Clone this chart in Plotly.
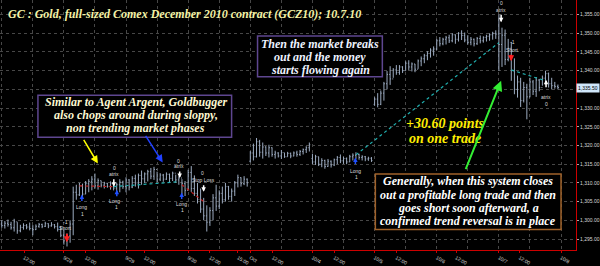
import plotly.graph_objects as go

# ---------------- DATA (hourly-ish bars, 20 per session) ----------------
highs = [
    1300.0, 1299.8, 1300.2, 1299.6, 1300.4, 1299.5, 1298.8, 1299.2, 1299.0, 1299.4, 1298.7, 1298.9, 1299.3, 1299.1, 1299.6, 1299.2, 1299.5, 1299.0, 1299.4, 1298.5,
    1297.5, 1296.5, 1300.0, 1309.0, 1309.5, 1310.0, 1309.8, 1310.5, 1311.0, 1311.8, 1312.5, 1311.2, 1310.6, 1310.3, 1310.0, 1310.4, 1309.8, 1310.0, 1311.0, 1310.6,
    1311.5, 1311.0, 1311.8, 1312.2, 1312.5, 1313.3, 1312.8, 1313.5, 1314.0, 1314.3, 1313.0, 1312.6, 1312.4, 1312.8, 1312.5, 1313.0, 1312.2, 1311.8, 1311.0, 1310.5,
    1313.5, 1314.5, 1312.0, 1310.0, 1308.5, 1306.0, 1304.0, 1303.5, 1307.0, 1309.5, 1308.0, 1309.0, 1310.0, 1309.2, 1308.5, 1310.5, 1312.2, 1311.5, 1311.8, 1311.2,
    1318.5, 1320.5, 1322.0, 1321.5, 1320.8, 1319.8, 1320.2, 1319.5, 1318.6, 1318.2, 1318.8, 1318.0, 1318.3, 1318.1, 1318.4, 1318.6, 1318.8, 1319.2, 1319.8, 1320.8,
    1317.8, 1317.5, 1317.0, 1316.6, 1316.2, 1316.4, 1316.0, 1316.5, 1317.2, 1317.6, 1317.0, 1316.8, 1317.5, 1317.9, 1318.2, 1317.8, 1317.4, 1317.2, 1317.0, 1316.9,
    1332.9, 1334.0, 1334.7, 1337.0, 1339.9, 1341.2, 1340.7, 1341.5, 1341.5, 1341.2, 1342.5, 1342.8, 1342.2, 1341.8, 1343.0, 1343.8, 1344.5, 1345.2, 1346.0, 1346.5,
    1348.5, 1349.0, 1348.8, 1349.3, 1349.6, 1350.0, 1349.7, 1350.3, 1350.8, 1350.2, 1349.5, 1349.0, 1348.6, 1349.0, 1349.4, 1349.2, 1349.6, 1350.0, 1350.4, 1350.8,
    1355.0, 1351.5, 1351.0, 1348.5, 1347.7, 1343.3, 1338.7, 1338.1, 1337.0, 1336.5, 1338.1, 1337.5, 1338.3, 1337.8, 1338.7, 1340.0, 1339.5, 1338.1, 1337.0, 1336.3,
]
lows = [
    1298.0, 1297.8, 1298.3, 1297.5, 1297.0, 1296.4, 1296.8, 1297.5, 1297.6, 1297.3, 1296.0, 1297.4, 1298.0, 1297.9, 1298.2, 1297.9, 1298.3, 1297.8, 1297.0, 1295.5,
    1293.5, 1293.0, 1294.0, 1296.0, 1305.5, 1306.5, 1306.0, 1307.0, 1307.5, 1308.0, 1308.5, 1308.2, 1308.8, 1308.5, 1308.7, 1308.2, 1308.0, 1307.0, 1307.5, 1308.4,
    1307.5, 1308.0, 1308.6, 1309.0, 1308.5, 1309.5, 1310.0, 1310.4, 1311.0, 1310.8, 1310.2, 1310.5, 1310.3, 1310.8, 1310.2, 1310.5, 1310.0, 1309.5, 1307.0, 1306.5,
    1308.0, 1307.6, 1306.5, 1304.5, 1302.0, 1300.0, 1297.0, 1298.5, 1300.0, 1302.5, 1303.0, 1304.5, 1305.0, 1305.5, 1305.0, 1306.5, 1308.8, 1309.0, 1309.4, 1309.0,
    1315.5, 1316.0, 1316.8, 1317.0, 1316.5, 1317.2, 1316.8, 1317.0, 1316.5, 1316.8, 1316.4, 1316.7, 1317.0, 1316.6, 1317.1, 1317.0, 1317.2, 1317.6, 1318.0, 1318.4,
    1315.0, 1314.8, 1314.5, 1314.2, 1313.8, 1314.3, 1314.1, 1314.5, 1315.0, 1315.3, 1315.1, 1315.0, 1315.6, 1316.0, 1316.4, 1316.2, 1316.0, 1315.8, 1315.9, 1315.6,
    1330.6, 1330.2, 1330.8, 1332.0, 1335.0, 1336.2, 1338.1, 1338.9, 1338.9, 1339.4, 1340.0, 1340.2, 1339.8, 1339.6, 1340.5, 1341.2, 1342.0, 1342.8, 1343.5, 1344.0,
    1345.5, 1346.5, 1346.8, 1347.0, 1347.4, 1347.6, 1347.2, 1347.8, 1348.2, 1347.6, 1347.0, 1346.8, 1346.5, 1346.9, 1347.3, 1347.5, 1347.8, 1348.0, 1348.3, 1348.5,
    1340.0, 1341.0, 1341.5, 1342.5, 1337.3, 1333.7, 1332.8, 1330.3, 1331.5, 1327.0, 1332.9, 1333.5, 1333.0, 1334.5, 1336.0, 1336.3, 1335.5, 1335.0, 1335.2, 1335.0,
]
opens = [
    1299.0, 1298.6, 1299.2, 1298.9, 1298.0, 1299.6, 1297.2, 1298.1, 1298.6, 1298.2, 1297.8, 1297.5, 1298.4, 1298.9, 1298.4, 1299.1, 1298.5, 1298.8, 1298.3, 1297.6,
    1296.0, 1294.5, 1295.8, 1299.0, 1307.5, 1306.8, 1309.2, 1307.0, 1309.8, 1310.4, 1311.0, 1309.2, 1310.6, 1309.4, 1309.9, 1309.1, 1309.8, 1308.6, 1309.5, 1310.2,
    1309.0, 1310.8, 1308.9, 1311.2, 1310.0, 1312.0, 1311.1, 1312.4, 1313.0, 1311.8, 1313.6, 1311.0, 1312.1, 1311.0, 1312.3, 1311.2, 1312.6, 1310.8, 1311.3, 1309.8,
    1308.0, 1312.8, 1308.5, 1307.2, 1305.6, 1303.0, 1301.2, 1299.5, 1302.6, 1306.0, 1303.8, 1307.2, 1305.5, 1309.0, 1306.4, 1307.8, 1310.0, 1311.4, 1309.8, 1311.0,
    1315.8, 1318.0, 1317.0, 1321.0, 1318.2, 1319.6, 1318.0, 1319.4, 1317.6, 1318.0, 1317.2, 1318.1, 1317.0, 1317.9, 1317.2, 1318.0, 1317.6, 1318.4, 1318.9, 1319.4,
    1316.5, 1315.6, 1317.0, 1315.0, 1316.0, 1314.4, 1315.8, 1314.8, 1316.2, 1316.8, 1315.9, 1316.5, 1315.6, 1317.0, 1317.4, 1317.6, 1316.8, 1317.0, 1316.4, 1316.6,
    1331.0, 1332.4, 1331.0, 1334.0, 1336.5, 1339.0, 1337.8, 1340.2, 1339.5, 1341.0, 1340.0, 1342.0, 1341.0, 1341.8, 1340.4, 1342.6, 1343.2, 1344.0, 1344.6, 1345.5,
    1345.8, 1348.0, 1347.2, 1348.4, 1348.8, 1348.0, 1349.6, 1348.4, 1350.0, 1349.4, 1348.2, 1347.6, 1348.4, 1347.2, 1348.6, 1348.0, 1348.9, 1349.2, 1349.6, 1350.0,
    1349.8, 1347.0, 1349.5, 1343.0, 1346.0, 1340.0, 1335.0, 1337.0, 1332.0, 1335.5, 1333.0, 1337.0, 1334.5, 1337.5, 1335.5, 1338.0, 1339.2, 1336.5, 1336.0, 1335.8,
]
closes = [
    1298.6, 1299.2, 1298.9, 1298.0, 1299.6, 1297.2, 1298.1, 1298.6, 1298.2, 1297.8, 1297.5, 1298.4, 1298.9, 1298.4, 1299.1, 1298.5, 1298.8, 1298.3, 1297.6, 1296.0,
    1294.5, 1295.8, 1299.0, 1307.5, 1306.8, 1309.2, 1307.0, 1309.8, 1310.4, 1311.0, 1309.2, 1310.6, 1309.4, 1309.9, 1309.1, 1309.8, 1308.6, 1309.5, 1310.2, 1309.0,
    1310.8, 1308.9, 1311.2, 1310.0, 1312.0, 1311.1, 1312.4, 1313.0, 1311.8, 1313.6, 1311.0, 1312.1, 1311.0, 1312.3, 1311.2, 1312.6, 1310.8, 1311.3, 1309.8, 1308.0,
    1312.8, 1308.5, 1307.2, 1305.6, 1303.0, 1301.2, 1299.5, 1302.6, 1306.0, 1303.8, 1307.2, 1305.5, 1309.0, 1306.4, 1307.8, 1310.0, 1311.4, 1309.8, 1311.0, 1310.0,
    1318.0, 1317.0, 1321.0, 1318.2, 1319.6, 1318.0, 1319.4, 1317.6, 1318.0, 1317.2, 1318.1, 1317.0, 1317.9, 1317.2, 1318.0, 1317.6, 1318.4, 1318.9, 1319.4, 1320.2,
    1315.6, 1317.0, 1315.0, 1316.0, 1314.4, 1315.8, 1314.8, 1316.2, 1316.8, 1315.9, 1316.5, 1315.6, 1317.0, 1317.4, 1317.6, 1316.8, 1317.0, 1316.4, 1316.6, 1316.0,
    1332.4, 1331.0, 1334.0, 1336.5, 1339.0, 1337.8, 1340.2, 1339.5, 1341.0, 1340.0, 1342.0, 1341.0, 1341.8, 1340.4, 1342.6, 1343.2, 1344.0, 1344.6, 1345.5, 1345.8,
    1348.0, 1347.2, 1348.4, 1348.8, 1348.0, 1349.6, 1348.4, 1350.0, 1349.4, 1348.2, 1347.6, 1348.4, 1347.2, 1348.6, 1348.0, 1348.9, 1349.2, 1349.6, 1350.0, 1349.8,
    1347.0, 1349.5, 1343.0, 1346.0, 1340.0, 1335.0, 1337.0, 1332.0, 1335.5, 1333.0, 1337.0, 1334.5, 1337.5, 1335.5, 1338.0, 1339.2, 1336.5, 1336.0, 1335.8, 1335.5,
]
bars_per_session = 20
last_price = 1335.5

tick_text = ["12:00", "9/28", "12:00", "9/29", "12:00", "9/30", "12:00", "15:00", "Oct",
             "12:00", "10/4", "12:00", "10/5", "12:00", "10/6", "12:00", "10/7", "12:00", "10/8"]
tick_pos = [0.36, 1, 1.35, 2, 2.3, 3, 3.35, 3.8, 4, 4.36, 5, 5.35, 6, 6.35, 7, 7.31, 8, 8.33, 9]
price_ticks = [1295, 1300, 1305, 1310, 1315, 1320, 1325, 1330, 1335, 1340, 1345, 1350, 1355]
price_tick_text = ["1,295.00", "1,300.00", "1,305.00", "1,310.00", "1,315.00", "1,320.00", "1,325.00",
                   "1,330.00", "", "1,340.00", "1,345.00", "1,350.00", "1,355.00"]

# trades: entry bar, entry price, exit bar, exit price, result
trade_entry_bar = [25, 36, 58, 114, 164]
trade_entry_price = [1309.2, 1309.0, 1309.5, 1317.5, 1340.2]
trade_exit_bar = [36, 57, 65, 160, 175]
trade_exit_price = [1309.0, 1310.3, 1305.0, 1347.5, 1337.3]
trade_win = [False, True, False, True, True]

# ---------------- FIGURE ----------------
W, H = 600, 266
ML, MR, MT, MB = 0, 23, 0, 9
PW, PH = W - ML - MR, H - MT - MB


def px(xp):
    return xp / PW


def py(yp):
    return 1 - yp / PH


xs = [i / bars_per_session for i in range(len(highs))]
bar_col = "#9cabc0"

fig = go.Figure()
fig.add_trace(go.Ohlc(
    x=xs, open=opens, high=highs, low=lows, close=closes,
    increasing=dict(line=dict(color=bar_col, width=1)),
    decreasing=dict(line=dict(color=bar_col, width=1)),
    tickwidth=0.3, hoverinfo="skip", showlegend=False,
))

for eb, ep, xb, xp_, win in zip(trade_entry_bar, trade_entry_price, trade_exit_bar, trade_exit_price, trade_win):
    fig.add_trace(go.Scatter(
        x=[eb / bars_per_session, xb / bars_per_session], y=[ep, xp_],
        mode="lines", line=dict(color="#20b0b0" if win else "#c02020", width=1.2, dash="dot"),
        hoverinfo="skip", showlegend=False,
    ))

serif = "Liberation Serif, Times New Roman, serif"
sans = "Liberation Sans, Arial, sans-serif"

ann = []
shapes = []

# Title
ann.append(dict(xref="paper", yref="paper", x=px(6), y=py(14), xanchor="left", yanchor="middle",
                text="<b><i>GC : Gold, full-sized Comex December 2010 contract (GCZ10); 10.7.10</i></b>",
                font=dict(family=serif, size=12, color="#f4f2a6"), showarrow=False))


def box(x0, y0, x1, y1, color, lines, ys, cx, tcolor, size=12):
    shapes.append(dict(type="rect", xref="paper", yref="paper", x0=px(x0), x1=px(x1), y0=py(y0), y1=py(y1),
                       line=dict(color=color, width=1.5), fillcolor="black", layer="above"))
    for t, yy in zip(lines, ys):
        ann.append(dict(xref="paper", yref="paper", x=px(cx), y=py(yy), xanchor="center", yanchor="middle",
                        text="<b><i>" + t + "</i></b>", font=dict(family=serif, size=size, color=tcolor),
                        showarrow=False))


box(38, 98, 232, 141, "#5e4690",
    ["Similar to Agent Argent, Goldbugger", "also chops around during sloppy,", "non trending market phases"],
    [105, 118.5, 132], 136, "#fdf8d2")
box(258, 37, 383, 79, "#5e4690",
    ["Then the market breaks", "out and the money", "starts flowing again"],
    [45, 58.5, 72], 321, "#eef2ff")
box(376, 179, 562, 236, "#a0622a",
    ["Generally, when this system closes", "out a profitable long trade and then",
     "goes short soon afterward, a", "confirmed trend reversal is in place"],
    [186, 200, 214, 227.5], 469, "#ffffff")

for t, yy in [("+30.60 points", 127), ("on one trade", 142)]:
    ann.append(dict(xref="paper", yref="paper", x=px(446), y=py(yy), xanchor="center", yanchor="middle",
                    text="<b><i>" + t + "</i></b>", font=dict(family=serif, size=14, color="#ffee00"),
                    showarrow=False))


def arrow(hx, hy, tx, ty, color, width=1.5, head=2, size=1.0):
    ann.append(dict(xref="paper", yref="paper", x=px(hx), y=py(hy), ax=tx - hx, ay=ty - hy,
                    axref="pixel", ayref="pixel", text="", showarrow=True, arrowhead=head,
                    arrowsize=size, arrowwidth=width, arrowcolor=color))


arrow(98, 168, 83, 143, "#ffff00", 1.5, 2, 1.0)
arrow(163, 167, 145, 139, "#2040ff", 1.5, 2, 1.0)
arrow(502, 83, 466, 173, "#33ee33", 2, 2, 1.0)


def small(t, x, y):
    ann.append(dict(xref="paper", yref="paper", x=px(x), y=py(y), xanchor="center", yanchor="middle",
                    text=t, font=dict(family=sans, size=5, color="#dcdcdc"), showarrow=False))


# trade signal markers
small("-1", 66, 228); small("Short", 66, 234); arrow(67, 249, 67, 239, "#ff2020", 2, 2, 0.6)
arrow(82, 200, 82, 208, "#2050ff", 1.5, 2, 0.6); small("Long", 82, 213); small("1", 83, 220)
small("0", 115, 173); small("atrix", 114, 179); arrow(114, 192, 114, 183, "#ffffff", 1.5, 2, 0.6)
arrow(117, 195, 117, 203, "#2050ff", 1.5, 2, 0.6); small("Long", 115, 207); small("1", 117, 213)
small("0", 179, 165); small("atrix", 179, 171); arrow(180, 183, 180, 175, "#ffffff", 1.5, 2, 0.6)
arrow(182, 198, 182, 206, "#2050ff", 1.5, 2, 0.6); small("Long", 182, 210); small("1", 183, 216)
small("0", 203, 178); small("Stop Loss", 204, 185); arrow(204, 197, 204, 189, "#ffffff", 1.5, 2, 0.6)
arrow(356, 162, 356, 170, "#2050ff", 1.5, 2, 0.6); small("Long", 356, 176); small("1", 357, 182)
small("0", 502, 3); small("atrix", 502, 10); arrow(502, 23, 502, 14, "#ffffff", 1.5, 2, 0.6)
small("-1", 513, 43); small("Short", 513, 51); arrow(512, 63, 512, 55, "#ff2020", 2, 2, 0.6)
arrow(547, 82, 547, 91, "#ffffff", 1.5, 2, 0.6); small("atrix", 547, 100); small("0", 547, 107)

# last price highlight
ann.append(dict(xref="paper", yref="y", x=1.0, y=last_price, xanchor="left", yanchor="middle",
                text="1,335.50", font=dict(family=sans, size=5, color="#000000"),
                bgcolor="#cfe6fa", borderpad=1, showarrow=False))

fig.update_layout(
    width=W, height=H, margin=dict(l=ML, r=MR, t=MT, b=MB),
    paper_bgcolor="black", plot_bgcolor="black",
    annotations=ann, shapes=shapes, showlegend=False,
    xaxis=dict(range=[-0.028, 9.241], tickmode="array", tickvals=tick_pos, ticktext=tick_text,
               showgrid=False, zeroline=False, showline=True, linecolor="#cc0000", linewidth=1,
               ticks="outside", ticklen=2, tickcolor="#cc0000",
               tickfont=dict(family=sans, size=5, color="#d8d8d8"),
               rangeslider=dict(visible=False),
               minor=dict(tickvals=[k * 0.5 for k in range(0, 19)], showgrid=True,
                          gridcolor="#474747", griddash="dot", gridwidth=1)),
    yaxis=dict(range=[1292.06, 1358.9], side="right", tickmode="array", tickvals=price_ticks,
               ticktext=price_tick_text, showgrid=True, gridcolor="#474747", griddash="dot", gridwidth=1,
               zeroline=False, showline=True, linecolor="#cc0000", linewidth=1,
               ticks="outside", ticklen=2, tickcolor="#aaaaaa",
               tickfont=dict(family=sans, size=5, color="#d8d8d8")),
)

fig.write_html("out.html")
